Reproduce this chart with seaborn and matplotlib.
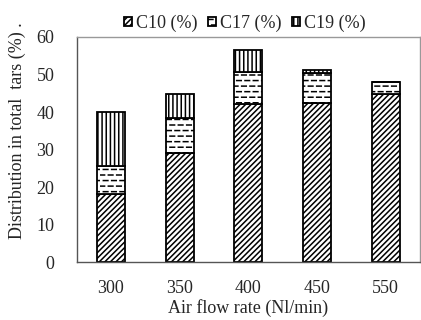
import matplotlib
matplotlib.use("Agg")
import matplotlib.pyplot as plt
import matplotlib.hatch as mhatch
from matplotlib.path import Path
import seaborn as sns
import numpy as np

categories = ["300", "350", "400", "450", "550"]
c10 = [18.3, 29.0, 42.0, 42.3, 44.9]
c17 = [7.3, 9.3, 8.7, 8.2, 3.1]
c19 = [14.3, 6.5, 5.7, 0.7, 0.0]
series_names = ["C10 (%)", "C17 (%)", "C19 (%)"]
yticks = [0, 10, 20, 30, 40, 50, 60]


class DashedHorizontalHatch(mhatch.HatchPatternBase):
    """Horizontal hatch drawn as short dashes (replaces the solid '-' hatch)."""

    def __init__(self, hatch, density):
        self.num_lines = int((hatch.count('-') + hatch.count('+')) * density)
        self.ndash = 12
        self.num_vertices = self.num_lines * self.ndash * 2

    def set_vertices_and_codes(self, vertices, codes):
        ys = np.linspace(0, 1, self.num_lines, endpoint=False) + 0.5 / max(self.num_lines, 1)
        k = 0
        for i, y in enumerate(ys):
            off = 0.4 / self.ndash if i % 2 else 0.0
            for j in range(self.ndash):
                x0 = j / self.ndash + off
                x1 = x0 + 0.55 / self.ndash
                vertices[k] = (x0, y)
                vertices[k + 1] = (x1, y)
                codes[k] = Path.MOVETO
                codes[k + 1] = Path.LINETO
                k += 2


mhatch._hatch_types[0] = DashedHorizontalHatch

sns.set_style("white")
plt.rcParams["font.family"] = ["Liberation Serif", "DejaVu Serif"]
plt.rcParams["hatch.linewidth"] = 1.1

fig = plt.figure(figsize=(4.21, 3.2), dpi=100)
ax = fig.add_axes([0.182, 0.180, 0.816, 0.705])

bottom1 = np.array(c10)
bottom2 = bottom1 + np.array(c17)
hatches = ["//////", "---", "||||"]
data = [(c10, 0), (c17, bottom1), (c19, bottom2)]
for (vals, bot), h, name in zip(data, hatches, series_names):
    sns.barplot(x=categories, y=vals, bottom=bot, color="white",
                edgecolor="black", linewidth=1.3, hatch=h, width=0.41,
                ax=ax, label=name)

FS = 13
ax.set_ylim(0, 60)
ax.set_xlim(-0.5, 4.5)
ax.set_yticks(yticks)
ax.set_yticklabels([str(t) for t in yticks], fontsize=FS)
ax.set_xticks(range(len(categories)))
ax.set_xticklabels(categories, fontsize=FS)
ax.set_xticks(np.arange(-0.5, 4.6, 1.0), minor=True)
ax.tick_params(axis="x", which="major", length=0, pad=13)
ax.tick_params(axis="x", which="minor", length=5, width=1, color="#555555", direction="out")
ax.tick_params(axis="y", length=5, width=1, color="#555555", direction="out", pad=11)
ax.set_xlabel("Air flow rate (Nl/min)", fontsize=FS, labelpad=1)
ax.set_ylabel("Distribution in total  tars (%) .", fontsize=FS)
ax.yaxis.set_label_coords(-0.148, 0.586)

for s in ["left", "bottom"]:
    ax.spines[s].set_color("#555555")
    ax.spines[s].set_linewidth(1.0)
for s in ["top", "right"]:
    ax.spines[s].set_color("#999999")
    ax.spines[s].set_linewidth(1.0)
    ax.spines[s].set_visible(True)

leg = ax.legend(loc="center", bbox_to_anchor=(0.49, 1.06), ncol=3,
                frameon=False, fontsize=FS, handlelength=0.45, handleheight=0.45,
                handletextpad=0.2, columnspacing=0.6)

fig.savefig("out.png", dpi=100)
